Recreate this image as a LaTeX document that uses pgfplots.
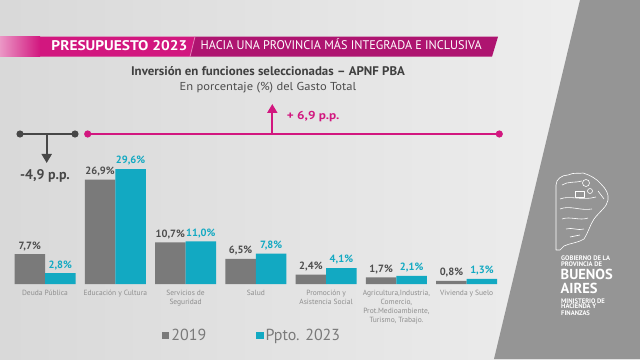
\documentclass[border=0pt]{standalone}
\usepackage{pgfplots}
\pgfplotsset{compat=1.18}
\usepackage{graphicx}
\usepackage{fontspec}
\setmainfont{PT Sans}
\usetikzlibrary{arrows.meta}
\definecolor{mag}{HTML}{D2177F}
\definecolor{mag2}{HTML}{AE1470}
\definecolor{barGray}{HTML}{7A7A7A}
\definecolor{valGray}{HTML}{4E4E4E}
\definecolor{barCyan}{HTML}{12A9C2}
\definecolor{catGray}{HTML}{8E8E8E}
\definecolor{legGray}{HTML}{7A7A7A}
\definecolor{panel}{HTML}{959595}
\definecolor{arrGray}{HTML}{474747}
\begin{document}
\begin{tikzpicture}[x=1pt,y=1pt]
% background
\shade[left color=black!15, middle color=black!3, right color=black!6] (0,0) rectangle (640,359);
\fill[panel] (580,359) -- (640,359) -- (640,0) -- (494,0) -- cycle;
% banner
\shade[left color=mag!45, right color=mag] (0,302.3) rectangle (40,322.3);
\fill[mag] (40,302.3) -- (40,322.3) -- (195,322.3) -- (190,302.3) -- cycle;
\fill[mag2] (195,322.3) -- (498,322.3) -- (492,302.3) -- (190,302.3) -- cycle;
\draw[mag!55, line width=0.8pt] (195,322.3) -- (190,302.3);
\node[anchor=base, text=white, font=\bfseries\fontsize{14}{16}\selectfont, inner sep=0pt] at (119.4,308) {\scalebox{1.1}[1]{PRESUPUESTO 2023}};
\node[anchor=base, text=white, font=\fontsize{12.5}{14}\selectfont, inner sep=0pt] at (341.2,309) {\scalebox{0.975}[1]{HACIA UNA PROVINCIA MÁS INTEGRADA E INCLUSIVA}};
% titles
\node[anchor=base, text=black!75, font=\bfseries\fontsize{12.5}{14}\selectfont, inner sep=0pt] at (268,283) {\scalebox{1.03}[1]{Inversión en funciones seleccionadas – APNF PBA}};
\node[anchor=base, text=black!70, font=\fontsize{11.5}{13}\selectfont, inner sep=0pt] at (268,268) {\scalebox{1.09}[1]{En porcentaje (\%) del Gasto Total}};
% magenta bracket
\draw[mag, line width=2pt] (87.7,225) -- (499.3,225);
\fill[mag] (87.7,225) circle (3.6);
\fill[mag] (499.3,225) circle (3.6);
\draw[mag, line width=2pt, -{Triangle[length=9pt,width=10pt]}] (272.3,225) -- (272.3,255);
\node[anchor=base west, text=mag, font=\bfseries\fontsize{11.5}{13}\selectfont, inner sep=0pt] at (286.7,239) {\scalebox{1.15}[1]{+ 6,9 p.p.}};
% gray bracket
\draw[arrGray, line width=2pt] (20,225) -- (75,225);
\fill[arrGray] (20,225) circle (3.6);
\fill[arrGray] (75,225) circle (3.6);
\draw[arrGray, line width=2pt, -{Triangle[length=9pt,width=10pt]}] (46.7,225) -- (46.7,196);
\node[anchor=base west, text=arrGray, font=\bfseries\fontsize{14}{16}\selectfont, inner sep=0pt] at (20,179) {-4,9 p.p.};
% logo
\begin{scope}[white, line width=0.6pt, line join=round]
\draw (556,174) .. controls (556,180) and (562,184) .. (568,184)
 .. controls (574,187) and (580,185) .. (583,186)
 .. controls (590,184) and (597,180) .. (601,175)
 .. controls (606,170) and (609,165) .. (608,159)
 .. controls (607,152) and (600,148) .. (594,140)
 .. controls (590,134) and (588,126) .. (584,120)
 .. controls (578,116) and (570,116) .. (564,113)
 -- (560,109) -- (556,109) -- cycle;
\draw (562,174) .. controls (568,178) and (576,176) .. (582,178);
\draw (586,176) circle (3.5);
\draw (560,160) .. controls (570,164) and (582,158) .. (596,162);
\draw (560,150) .. controls (570,154) and (580,148) .. (592,150);
\draw (562,140) .. controls (570,143) and (580,138) .. (588,141);
\draw (575,168) rectangle (584,162);
\draw (590,168) circle (2.5);
\draw (566,130) .. controls (572,132) and (578,128) .. (584,130);
\draw (570,122) -- (580,124);
\draw (598,168) -- (604,160);
\end{scope}
\node[anchor=base west, text=white, font=\bfseries\fontsize{6.6}{7}\selectfont, inner sep=0pt] at (561,98.5) {GOBIERNO DE LA};
\node[anchor=base west, text=white, font=\bfseries\fontsize{6.6}{7}\selectfont, inner sep=0pt] at (561,92.5) {PROVINCIA DE};
\node[anchor=base west, text=white, font=\bfseries\fontsize{14.5}{15}\selectfont, inner sep=0pt] at (560.5,79) {BUENOS};
\node[anchor=base west, text=white, font=\bfseries\fontsize{14.5}{15}\selectfont, inner sep=0pt] at (560.5,65.7) {AIRES};
\node[anchor=base west, text=white, font=\bfseries\fontsize{6.6}{7}\selectfont, inner sep=0pt] at (561,56) {MINISTERIO DE};
\node[anchor=base west, text=white, font=\bfseries\fontsize{6.6}{7}\selectfont, inner sep=0pt] at (561,50) {HACIENDA Y};
\node[anchor=base west, text=white, font=\bfseries\fontsize{6.6}{7}\selectfont, inner sep=0pt] at (561,44) {FINANZAS};
% chart
\begin{axis}[
  at={(45pt,75pt)}, anchor=origin, scale only axis,
  width=492pt, height=116.5pt,
  xmin=-0.5, xmax=6.5, ymin=0, ymax=30,
  ybar=0pt, bar width=30.5pt,
  axis line style={draw=none},
  ytick=\empty,
  xtick={0,1,2,3,4,5,6},
  xticklabels={{Deuda Pública},{Educación y Cultura},{Servicios de\\Seguridad},{Salud},{Promoción y\\Asistencia Social},{Agricultura,Industria,\\Comercio,\\Prot.Medioambiente,\\Turismo, Trabajo.},{Vivienda y Suelo}},
  major tick length=0pt,
  xticklabel style={font=\fontsize{7.5}{9}\selectfont, text=catGray, align=center, anchor=north, yshift=-3pt},
  nodes near coords={\pgfmathprintnumber{\pgfplotspointmeta}\%},
  nodes near coords style={font=\bfseries\fontsize{10.5}{12}\selectfont},
  /pgf/number format/use comma,
  /pgf/number format/fixed,
  /pgf/number format/fixed zerofill,
  /pgf/number format/precision=1,
  /pgf/number format/assume math mode=true,
  legend image code/.code={\fill[#1] (0pt,-3.6pt) rectangle (7.2pt,3.6pt);},
  legend columns=2,
  legend style={at={(0.3093,-0.442)}, anchor=west, draw=none, fill=none, inner sep=0pt,
    font=\fontsize{16}{18}\selectfont, text=legGray,
    /tikz/every even column/.append style={column sep=48pt}},
  clip=false,
]
\addplot[valGray, fill=barGray, draw=none] coordinates {(0,7.7) (1,26.9) (2,10.7) (3,6.5) (4,2.4) (5,1.7) (6,0.8)};
\addplot[barCyan, fill=barCyan, draw=none] coordinates {(0,2.8) (1,29.6) (2,11.0) (3,7.8) (4,4.1) (5,2.1) (6,1.3)};
\legend{2019, Ppto. 2023}
\end{axis}
\end{tikzpicture}
\end{document}
